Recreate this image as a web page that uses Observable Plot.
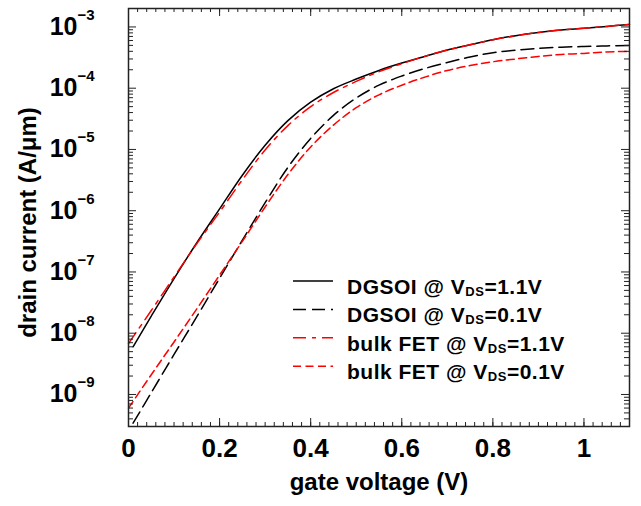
<!DOCTYPE html>
<html><head><meta charset="utf-8">
<script src="https://cdn.jsdelivr.net/npm/d3@7"></script>
<script src="https://cdn.jsdelivr.net/npm/@observablehq/plot@0.6"></script>
<style>
body{margin:0;background:#fff;}
#chart{position:relative;width:641px;height:506px;font-family:"Liberation Sans",Arial,Helvetica,sans-serif;}
#chart svg{display:block}
g[aria-label="x-title"] text{letter-spacing:1.4px}
g[aria-label="y-title"] text{letter-spacing:1.3px}
#legend{position:absolute;left:0;top:0;pointer-events:none}
</style></head><body><div id="chart"></div>
<script>
// gate voltage samples (V)
const vgDGSOI = [0.01,0.05,0.10,0.15,0.20,0.25,0.30,0.35,0.40,0.45,0.50,0.55,0.60,0.65,0.70,0.75,0.80,0.85,0.90,0.95,1.00,1.05,1.10];
const vgBulk  = [0.00,0.05,0.10,0.15,0.20,0.25,0.30,0.35,0.40,0.45,0.50,0.55,0.60,0.65,0.70,0.75,0.80,0.85,0.90,0.95,1.00,1.05,1.10];
// drain current (A/um)
const idDGSOI11 = [6.0e-9,1.9e-8,7.8e-8,3.0e-7,1.07e-6,3.8e-6,1.17e-5,2.95e-5,5.9e-5,9.8e-5,1.41e-4,1.95e-4,2.57e-4,3.3e-4,4.2e-4,5.1e-4,6.2e-4,7.2e-4,8.1e-4,8.9e-4,9.5e-4,1.02e-3,1.10e-3];
const idDGSOI01 = [3.4e-10,1.07e-9,4.5e-9,1.86e-8,7.9e-8,3.3e-7,1.35e-6,5.1e-6,1.51e-5,3.6e-5,6.9e-5,1.12e-4,1.58e-4,2.09e-4,2.63e-4,3.24e-4,3.8e-4,4.17e-4,4.47e-4,4.68e-4,4.79e-4,4.9e-4,5.0e-4];
const idBulk11  = [6.8e-9,2.35e-8,8.3e-8,2.9e-7,9.5e-7,3.2e-6,9.8e-6,2.45e-5,5.0e-5,8.5e-5,1.29e-4,1.86e-4,2.51e-4,3.3e-4,4.2e-4,5.1e-4,6.2e-4,7.2e-4,8.1e-4,8.9e-4,9.5e-4,1.02e-3,1.10e-3];
const idBulk01  = [6.0e-10,2.1e-9,7.2e-9,2.5e-8,8.9e-8,3.16e-7,1.15e-6,3.9e-6,1.1e-5,2.5e-5,4.8e-5,7.8e-5,1.12e-4,1.51e-4,1.95e-4,2.34e-4,2.7e-4,3.0e-4,3.3e-4,3.55e-4,3.7e-4,3.9e-4,4.0e-4];

const legendDevices = ["DGSOI","DGSOI","bulk FET","bulk FET"];
const legendVds = ["1.1V","0.1V","1.1V","0.1V"];
const seriesColors = ["#000000","#000000","#ff0000","#ff0000"];
const seriesDash = [null,"13,6","13,6,4,6","8,4.5"];

const xMajor = [0,0.2,0.4,0.6,0.8,1.0];
const xTickLabels = ["0","0.2","0.4","0.6","0.8","1"];
const yMajor = [1e-9,1e-8,1e-7,1e-6,1e-5,1e-4,1e-3];
const yExponents = ["\u22129","\u22128","\u22127","\u22126","\u22125","\u22124","\u22123"];
const yMinorMult = [2,3,4,5,6,7,8,9];
const xDomain = [0,1.1];
const yDomain = [3e-10,2e-3];

const xMinor = d3.range(0, 1.1001, 0.02).map(v => +v.toFixed(2));
const yMinor = [];
for (const m of [1e-10,1e-9,1e-8,1e-7,1e-6,1e-5,1e-4,1e-3]) for (const k of yMinorMult) { const v = k*m; if (v >= yDomain[0] && v <= yDomain[1]) yMinor.push(v); }

const series = [
  {v: vgDGSOI, id: idDGSOI11},
  {v: vgDGSOI, id: idDGSOI01},
  {v: vgBulk, id: idBulk11},
  {v: vgBulk, id: idBulk01}
].map((s,i) => s.v.map((v,j) => ({v, id: s.id[j], k: i})));

const W = 641, H = 506, mL = 128, mR = 12, mT = 8, mB = 80;
const iW = W - mL - mR, iH = H - mT - mB;
const bold = {fontWeight: "bold", fill: "#000"};

const chart = Plot.plot({
  width: W, height: H, marginLeft: mL, marginRight: mR, marginTop: mT, marginBottom: mB,
  style: {fontFamily: "'Liberation Sans', Arial, Helvetica, sans-serif", background: "#fff"},
  x: {domain: xDomain, axis: null},
  y: {type: "log", domain: yDomain, axis: null},
  marks: [
    ...series.map((d,i) => Plot.line(d, {x: "v", y: "id", stroke: seriesColors[i], strokeWidth: 1.5, strokeDasharray: seriesDash[i], curve: "catmull-rom"})),
    // inward ticks
    Plot.tickX(xMinor, {x: d => d, insetTop: iH - 4, stroke: "#222"}),
    Plot.tickX(xMinor, {x: d => d, insetBottom: iH - 4, stroke: "#222"}),
    Plot.tickX(xMajor, {x: d => d, insetTop: iH - 8, stroke: "#222"}),
    Plot.tickX(xMajor, {x: d => d, insetBottom: iH - 8, stroke: "#222"}),
    Plot.tickY(yMinor, {y: d => d, insetRight: iW - 5, stroke: "#222"}),
    Plot.tickY(yMinor, {y: d => d, insetLeft: iW - 5, stroke: "#222"}),
    Plot.tickY(yMajor, {y: d => d, insetRight: iW - 8, stroke: "#222"}),
    Plot.tickY(yMajor, {y: d => d, insetLeft: iW - 8, stroke: "#222"}),
    Plot.frame({stroke: "#222", strokeWidth: 1.5}),
    // tick labels
    Plot.text(xMajor, {x: d => d, frameAnchor: "bottom", lineAnchor: "middle", text: (d,i) => xTickLabels[i], dy: 22, fontSize: 26, ...bold}),
    Plot.text(yMajor, {y: d => d, frameAnchor: "left", lineAnchor: "middle", text: () => "10", textAnchor: "end", dx: -51, fontSize: 25, ...bold}),
    Plot.text(yMajor, {y: d => d, frameAnchor: "left", lineAnchor: "middle", text: (d,i) => yExponents[i], textAnchor: "start", dx: -51, dy: -12, fontSize: 15, ...bold}),
    // axis titles
    Plot.text(["gate voltage (V)"], {frameAnchor: "bottom", lineAnchor: "middle", textAnchor: "middle", text: d => d, dy: 56, fontSize: 24, ariaLabel: "x-title", ...bold}),
    Plot.text(["drain current (A/\u03bcm)"], {frameAnchor: "left", lineAnchor: "middle", textAnchor: "middle", text: d => d, rotate: -90, dx: -100, dy: 5, fontSize: 24, ariaLabel: "y-title", ...bold})
  ]
});
const host = document.getElementById("chart");
host.appendChild(chart);

// legend overlay
const lg = d3.select(host).append("svg").attr("id","legend").attr("width",W).attr("height",H)
  .attr("font-family","'Liberation Sans', Arial, Helvetica, sans-serif").attr("font-weight","bold");
legendDevices.forEach((dev,i) => {
  const y = 281 + i*28.4;
  lg.append("line").attr("x1",293).attr("x2",333).attr("y1",y).attr("y2",y)
    .attr("stroke",seriesColors[i]).attr("stroke-width",1.5).attr("stroke-dasharray",seriesDash[i]);
  const t = lg.append("text").attr("x",347).attr("y",y+13).attr("font-size",21).attr("letter-spacing","0.5px");
  t.append("tspan").text(dev + " @ V");
  t.append("tspan").attr("font-size",13).attr("dy",2).text("DS");
  t.append("tspan").attr("dy",-2).text("=" + legendVds[i]);
});
</script></body></html>
